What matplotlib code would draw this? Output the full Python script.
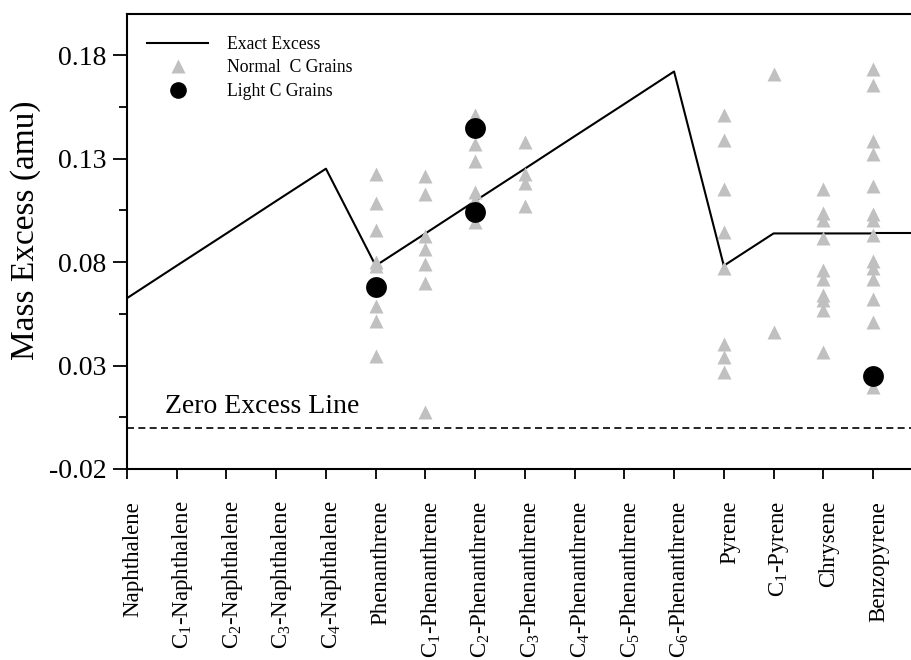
import matplotlib
matplotlib.use('Agg')
import matplotlib.pyplot as plt
import matplotlib.transforms as mtransforms
from matplotlib.lines import Line2D

plt.rcParams['font.family'] = ['Liberation Serif', 'DejaVu Serif']
plt.rcParams['mathtext.fontset'] = 'custom'
plt.rcParams['mathtext.rm'] = 'Liberation Serif'
plt.rcParams['mathtext.it'] = 'Liberation Serif:italic'
plt.rcParams['mathtext.default'] = 'rm'

# ---------------- data ----------------
categories = [
    'Naphthalene', 'C$_1$-Naphthalene', 'C$_2$-Naphthalene', 'C$_3$-Naphthalene',
    'C$_4$-Naphthalene', 'Phenanthrene', 'C$_1$-Phenanthrene', 'C$_2$-Phenanthrene',
    'C$_3$-Phenanthrene', 'C$_4$-Phenanthrene', 'C$_5$-Phenanthrene', 'C$_6$-Phenanthrene',
    'Pyrene', 'C$_1$-Pyrene', 'Chrysene', 'Benzopyrene',
]
exact_excess = [0.0626, 0.0783, 0.0939, 0.1096, 0.1252,
                0.0783, 0.0939, 0.1096, 0.1252, 0.1409, 0.1565, 0.1722,
                0.0783, 0.0939, 0.0939, 0.0939]

normal_phenanthrene = [0.1224, 0.1084, 0.0958, 0.0801, 0.0780, 0.0587, 0.0516, 0.0346]
normal_c1_phenanthrene = [0.1219, 0.1128, 0.0926, 0.0866, 0.0790, 0.0700, 0.0077]
normal_c2_phenanthrene = [0.1510, 0.1373, 0.1289, 0.1137, 0.1100, 0.0995]
normal_c3_phenanthrene = [0.1383, 0.1225, 0.1183, 0.1072]
normal_pyrene = [0.1510, 0.1393, 0.1154, 0.0946, 0.0770, 0.0402, 0.0341, 0.0270]
normal_c1_pyrene = [0.1712, 0.0463]
normal_chrysene = [0.1153, 0.1038, 0.1003, 0.0915, 0.0761, 0.0721, 0.0641,
                   0.0616, 0.0568, 0.0364]
normal_benzopyrene = [0.1734, 0.1658, 0.1386, 0.1325, 0.1169, 0.1035, 0.1003,
                      0.0930, 0.0806, 0.0770, 0.0721, 0.0620, 0.0509, 0.0198]

light_phenanthrene = [0.0681]
light_c2_phenanthrene = [0.1449, 0.1043]
light_benzopyrene = [0.0249]

normal_groups = {
    'Phenanthrene': normal_phenanthrene,
    'C$_1$-Phenanthrene': normal_c1_phenanthrene,
    'C$_2$-Phenanthrene': normal_c2_phenanthrene,
    'C$_3$-Phenanthrene': normal_c3_phenanthrene,
    'Pyrene': normal_pyrene,
    'C$_1$-Pyrene': normal_c1_pyrene,
    'Chrysene': normal_chrysene,
    'Benzopyrene': normal_benzopyrene,
}
light_groups = {
    'Phenanthrene': light_phenanthrene,
    'C$_2$-Phenanthrene': light_c2_phenanthrene,
    'Benzopyrene': light_benzopyrene,
}

# ---------------- figure ----------------
W, H = 912, 660
fig = plt.figure(figsize=(W / 100, H / 100), dpi=100)
ax_left, ax_right, ax_top, ax_bot = 127, 930, 14, 469
ax = fig.add_axes([ax_left / W, (H - ax_bot) / H, (ax_right - ax_left) / W, (ax_bot - ax_top) / H])

step_px = (873 - 127) / 15.0
x_max = (ax_right - ax_left) / step_px
ax.set_xlim(0, x_max)
ax.set_ylim(-0.02, 0.20)

xs = list(range(len(categories)))
gray = '#c0c0c0'

ax.axhline(0.0, color='black', lw=1.2, dashes=(4.2, 2.6), zorder=1)
ax.plot(xs, exact_excess, color='black', lw=1.5, zorder=2)
ax.plot([xs[-1], x_max], [exact_excess[-1], exact_excess[-1]], color='black', lw=1.5, zorder=2)

for name, vals in normal_groups.items():
    i = categories.index(name)
    ax.plot([i] * len(vals), vals, linestyle='none', marker='^', ms=10,
            color=gray, mec='none', zorder=3)
for name, vals in light_groups.items():
    i = categories.index(name)
    ax.plot([i] * len(vals), vals, linestyle='none', marker='o', ms=15,
            color='black', mec='none', zorder=4)

ax.text(0.76, 0.0072, 'Zero Excess Line', fontsize=20, ha='left', va='baseline')

# axes styling
ax.spines['right'].set_visible(False)
for s in ('left', 'bottom', 'top'):
    ax.spines[s].set_linewidth(1.5)

ax.set_yticks([-0.02, 0.03, 0.08, 0.13, 0.18])
ax.set_yticklabels(['-0.02', '0.03', '0.08', '0.13', '0.18'])
ax.set_yticks([0.005, 0.055, 0.105, 0.155], minor=True)
ax.tick_params(axis='y', which='major', direction='out', length=10, width=1.3,
               labelsize=20, pad=5)
ax.tick_params(axis='y', which='minor', direction='out', length=6, width=1.3)
ax.set_xticks(xs)
ax.set_xticklabels(categories, rotation=90, fontsize=16.5)
ax.tick_params(axis='x', which='major', direction='out', length=7, width=1.3, pad=16)
off = mtransforms.ScaledTranslation(4 / 72, 0, fig.dpi_scale_trans)
for lab in ax.get_xticklabels():
    lab.set_transform(lab.get_transform() + off)

ax.set_ylabel('Mass Excess (amu)', fontsize=24)
ax.yaxis.label.set_va('center')
ax.yaxis.set_label_coords((26 - ax_left) / (ax_right - ax_left),
                          (ax_bot - 230) / (ax_bot - ax_top))

handles = [
    Line2D([], [], color='black', lw=1.5),
    Line2D([], [], linestyle='none', marker='^', ms=10, color=gray, mec='none'),
    Line2D([], [], linestyle='none', marker='o', ms=12, color='black', mec='none'),
]
labels = ['Exact Excess', 'Normal  C Grains', 'Light C Grains']
ax.legend(handles, labels, loc='upper left', bbox_to_anchor=(147 / W, 1 - 36 / H),
          bbox_transform=fig.transFigure, frameon=False, fontsize=12.7,
          handlelength=3.46, handletextpad=1.1, labelspacing=0.36,
          borderpad=0, borderaxespad=0)

fig.savefig('out.png', dpi=100)
